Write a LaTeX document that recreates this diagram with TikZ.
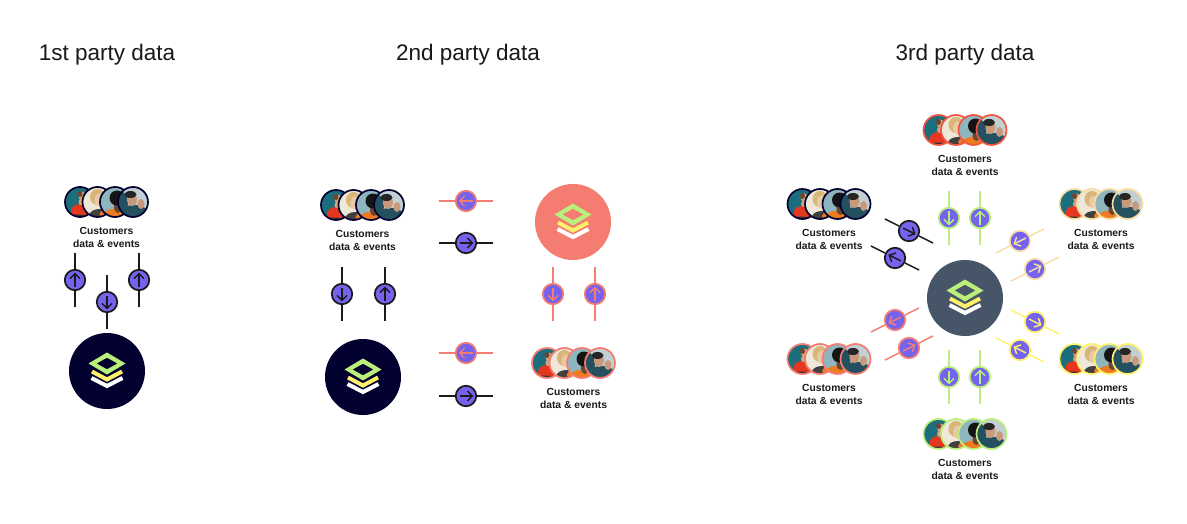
\documentclass[tikz,border=0pt]{standalone}
\usepackage{fontspec}
\setmainfont{Liberation Sans}
\usetikzlibrary{calc}
\definecolor{flowfill}{HTML}{7563EE}
\definecolor{ink}{HTML}{1A1A1A}
\definecolor{navy}{HTML}{03012F}
\definecolor{salmon}{HTML}{F47C70}
\definecolor{redring}{HTML}{F0553F}
\definecolor{leaf}{HTML}{B9EF7A}
\definecolor{lemon}{HTML}{FFF26A}
\definecolor{cream}{HTML}{F8DDA2}
\definecolor{slatehub}{HTML}{475569}
\definecolor{c1}{HTML}{1C6E7D}\definecolor{c1b}{HTML}{17444F}
\definecolor{c2}{HTML}{E5371F}\definecolor{c2b}{HTML}{EE7A22}
\definecolor{c3}{HTML}{D9A37C}\definecolor{c4}{HTML}{EFE7D8}
\definecolor{c5}{HTML}{D8B67A}\definecolor{c6}{HTML}{EBC8A6}
\definecolor{c6b}{HTML}{C9997C}\definecolor{c7}{HTML}{8FB5BF}
\definecolor{c8}{HTML}{6B4632}\definecolor{c9}{HTML}{C2D0D4}
\definecolor{c10}{HTML}{24505F}
\tikzset{
  x=1pt,y=-1pt,
  flownode/.style={circle,inner sep=0,minimum size=20.5pt,line width=1.7pt,fill=flowfill,draw=#1},
  flowline/.style={line width=1.4pt,draw=#1},
  flowarrow/.style={line width=1.4pt,draw=#1,line cap=butt,line join=miter},
  hub/.style={circle,inner sep=0,minimum size=76pt,fill=#1},
  title/.style={font=\fontsize{22.5}{24}\selectfont,text=black!90,inner sep=0},
  caption/.style={font=\fontsize{10.3}{13}\bfseries\selectfont,text=black!90,align=center,inner sep=0},
  ring/.style={line width=1.7pt,draw=#1},
}
% \flow{name}{x}{y}{line angle}{arrow angle}{colour}
\newcommand{\flow}[6]{%
  \node[flownode=#6] (#1) at (#2,#3) {};
  \coordinate (#1-a) at ($(#1)+(#4:27pt)$);
  \coordinate (#1-b) at ($(#1)+(#4+180:27pt)$);
  \draw[flowline=#6] (#1-a) -- (#1);
  \draw[flowline=#6] (#1-b) -- (#1);
  \begin{scope}[shift={(#2,#3)},rotate=#5]
    \draw[flowarrow=#6] (-6.5,0) -- (6.3,0);
    \draw[flowarrow=#6] (1.3,-5) -- (6.3,0) -- (1.3,5);
  \end{scope}}
% \stacklayers{x}{y}
\newcommand{\stacklayers}[2]{%
  \begin{scope}[shift={(#1,#2)}]
    \draw[white,line width=4pt] (-15.5,7) -- (0,15) -- (15.5,7);
    \draw[lemon,line width=4pt] (-15,0.5) -- (0,8.5) -- (15,0.5);
    \fill[leaf,even odd rule] (-18.5,-7.5) -- (0,-18.5) -- (18.5,-7.5) -- (0,3.5) -- cycle
      (-10.5,-7.5) -- (0,-13.3) -- (10.5,-7.5) -- (0,-1.7) -- cycle;
  \end{scope}}
\newcommand{\faceA}[3]{%
  \begin{scope}[shift={(#1,#2)}]
    \begin{scope}\clip (0,0) circle (15);
      \fill[c1] (-16,-16) rectangle (16,16);
      \fill[c2] (0,9) ellipse (9 and 7);
      \fill[c3] (2,-6) ellipse (3.5 and 4.5);
      \fill[c8] (0,-8) ellipse (2.5 and 3);
      \fill[c3] (1,0) ellipse (2.5 and 3);
      \fill[black!80] (-2,15) ellipse (9 and 2.5);
    \end{scope}
    \draw[ring=#3] (0,0) circle (15);
  \end{scope}}
\newcommand{\faceB}[3]{%
  \begin{scope}[shift={(#1,#2)}]
    \begin{scope}\clip (0,0) circle (15);
      \fill[c4] (-16,-16) rectangle (16,16);
      \fill[c5] (0,-5) ellipse (7.5 and 8);
      \fill[c6] (2,-2) ellipse (5 and 6.5);
      \fill[black!75] (2,13) ellipse (10 and 6);
      \fill[c2b] (8,12) ellipse (6 and 4);
    \end{scope}
    \draw[ring=#3] (0,0) circle (15);
  \end{scope}}
\newcommand{\faceC}[3]{%
  \begin{scope}[shift={(#1,#2)}]
    \begin{scope}\clip (0,0) circle (15);
      \fill[c7] (-16,-16) rectangle (16,16);
      \fill[c2b] (-2,14) ellipse (10 and 7);
      \fill[c8] (3,5) ellipse (4 and 6);
      \fill[black!92] (2,-4) ellipse (7.5 and 7.5);
    \end{scope}
    \draw[ring=#3] (0,0) circle (15);
  \end{scope}}
\newcommand{\faceD}[3]{%
  \begin{scope}[shift={(#1,#2)}]
    \begin{scope}\clip (0,0) circle (15);
      \fill[c9] (-16,-16) rectangle (16,16);
      \fill[c10] (-13,1) ellipse (8 and 12);
      \fill[c10] (1,13) ellipse (16 and 10);
      \fill[c6b] (-1,-2.5) ellipse (5 and 6.5);
      \fill[black!85] (-2.5,-7.5) ellipse (6 and 3.5);
      \fill[c6b] (8,2) ellipse (3.5 and 5);
    \end{scope}
    \draw[ring=#3] (0,0) circle (15);
  \end{scope}}
% \customers{name}{x of group centre}{y}{ring colour}
\newcommand{\customers}[4]{%
  \faceA{#2-26.5}{#3}{#4}
  \faceB{#2-9}{#3}{#4}
  \faceC{#2+8.5}{#3}{#4}
  \faceD{#2+26.5}{#3}{#4}
  \node[caption] (#1) at (#2,#3+35.3) {Customers\\data \& events};}
\begin{document}
\begin{tikzpicture}
\useasboundingbox (0,0) rectangle (1187,524);
\fill[white] (0,0) rectangle (1187,524);

\node[title] (t1) at (107,55) {1st party data};
\node[title] (t2) at (468,55) {2nd party data};
\node[title] (t3) at (965,55) {3rd party data};

% 1st party
\customers{c1a}{106.5}{202}{navy}
\flow{f1a}{75}{280}{90}{90}{ink}
\flow{f1b}{107}{302}{90}{-90}{ink}
\flow{f1c}{139}{280}{90}{90}{ink}
\node[hub=navy] (h1) at (107,371) {};
\stacklayers{107}{371}

% 2nd party
\customers{c2a}{362.5}{205}{navy}
\flow{f2a}{466}{201}{0}{180}{salmon}
\flow{f2b}{466}{243}{0}{0}{ink}
\flow{f2c}{466}{353}{0}{180}{salmon}
\flow{f2d}{466}{396}{0}{0}{ink}
\flow{f2e}{342}{294}{90}{-90}{ink}
\flow{f2f}{385}{294}{90}{90}{ink}
\flow{f2g}{553}{294}{90}{-90}{salmon}
\flow{f2h}{595}{294}{90}{90}{salmon}
\node[hub=navy] (h2) at (363,377) {};
\stacklayers{363}{377}
\node[hub=salmon] (h3) at (573,222) {};
\stacklayers{573}{222}
\customers{c2b}{573.5}{363}{salmon}

% 3rd party
\node[hub=slatehub] (h4) at (965,298) {};
\stacklayers{965}{298}
\customers{c3a}{965}{130}{redring}
\customers{c3b}{829}{204}{navy}
\customers{c3c}{1101}{204}{cream}
\customers{c3d}{829}{359}{salmon}
\customers{c3e}{1101}{359}{lemon}
\customers{c3f}{965}{434}{leaf}
\flow{f3a}{949}{218}{90}{-90}{leaf}
\flow{f3b}{980}{218}{90}{90}{leaf}
\flow{f3c}{949}{377}{90}{-90}{leaf}
\flow{f3d}{980}{377}{90}{90}{leaf}
\flow{f3e}{909}{231}{-26.6}{-26.6}{ink}
\flow{f3f}{895}{258}{-26.6}{153.4}{ink}
\flow{f3g}{1020}{241}{26.6}{206.6}{cream}
\flow{f3h}{1035}{269}{26.6}{26.6}{cream}
\flow{f3i}{895}{320}{26.6}{206.6}{salmon}
\flow{f3j}{909}{348}{26.6}{26.6}{salmon}
\flow{f3k}{1035}{322}{-26.6}{-26.6}{lemon}
\flow{f3l}{1020}{350}{-26.6}{153.4}{lemon}
\end{tikzpicture}
\end{document}
